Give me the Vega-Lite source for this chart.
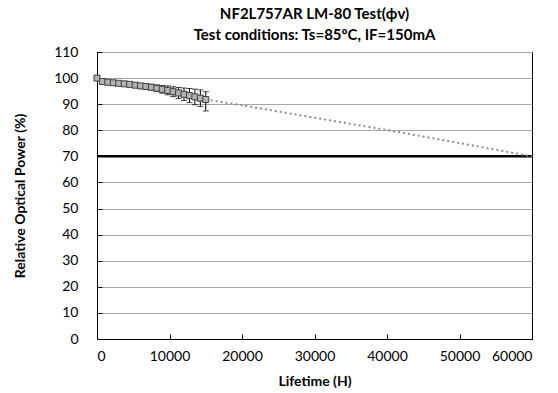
{
  "$schema": "https://vega.github.io/schema/vega-lite/v6.json",
  "width": 435,
  "height": 287,
  "autosize": "none",
  "padding": {"left": 97, "top": 52, "right": 26, "bottom": 54},
  "background": "white",
  "config": {
    "font": "Lato",
    "view": {"stroke": "#000", "strokeWidth": 1}
  },
  "title": {
    "text": ["NF2L757AR LM-80 Test(ϕv)", "Test conditions: Ts=85ºC, IF=150mA"],
    "font": "Lato",
    "fontSize": 15,
    "fontWeight": "bold",
    "color": "#000",
    "lineHeight": 21,
    "offset": 2,
    "anchor": "middle"
  },
  "datasets": {
    "meas": [
      {"t": 0, "v": 100, "lo": 100, "hi": 100},
      {"t": 750, "v": 98.7, "lo": 98.4, "hi": 99.0},
      {"t": 1500, "v": 98.4, "lo": 98.0, "hi": 98.8},
      {"t": 2250, "v": 98.2, "lo": 97.7, "hi": 98.7},
      {"t": 3000, "v": 98.0, "lo": 97.4, "hi": 98.6},
      {"t": 3750, "v": 97.8, "lo": 97.2, "hi": 98.4},
      {"t": 4500, "v": 97.6, "lo": 96.9, "hi": 98.3},
      {"t": 5250, "v": 97.3, "lo": 96.5, "hi": 98.1},
      {"t": 6000, "v": 97.0, "lo": 96.1, "hi": 97.9},
      {"t": 6750, "v": 96.8, "lo": 95.8, "hi": 97.8},
      {"t": 7500, "v": 96.5, "lo": 95.4, "hi": 97.6},
      {"t": 8250, "v": 96.1, "lo": 94.8, "hi": 97.4},
      {"t": 9000, "v": 95.7, "lo": 94.2, "hi": 97.2},
      {"t": 9750, "v": 95.3, "lo": 93.6, "hi": 97.0},
      {"t": 10500, "v": 94.8, "lo": 92.9, "hi": 96.7},
      {"t": 11250, "v": 94.3, "lo": 92.2, "hi": 96.4},
      {"t": 12000, "v": 93.8, "lo": 91.4, "hi": 96.2},
      {"t": 12750, "v": 93.3, "lo": 90.6, "hi": 96.0},
      {"t": 13500, "v": 92.8, "lo": 89.8, "hi": 95.8},
      {"t": 14250, "v": 92.3, "lo": 89.1, "hi": 95.5},
      {"t": 15000, "v": 91.8, "lo": 87.4, "hi": 94.8}
    ],
    "proj": [
      {"t": 15000, "v": 91.8},
      {"t": 20000, "v": 89.6},
      {"t": 30000, "v": 84.8},
      {"t": 40000, "v": 80.1},
      {"t": 50000, "v": 75.1},
      {"t": 60000, "v": 70}
    ],
    "limit": [
      {"t": 0, "v": 70},
      {"t": 60000, "v": 70}
    ]
  },
  "encoding": {
    "x": {
      "field": "t",
      "type": "quantitative",
      "scale": {"domain": [0, 60000], "nice": false},
      "axis": {
        "title": "Lifetime (H)",
        "values": [0, 10000, 20000, 30000, 40000, 50000, 60000],
        "format": "d",
        "grid": false,
        "domainColor": "#000",
        "tickColor": "#000",
        "tickSize": -5,
        "labelPadding": 15,
        "labelFont": "Lato",
        "labelFontSize": 14,
        "labelColor": "#000",
        "titleFont": "Lato",
        "titleFontSize": 14,
        "titleFontWeight": "bold",
        "titleColor": "#000",
        "titlePadding": 11
      }
    },
    "y": {
      "field": "v",
      "type": "quantitative",
      "scale": {"domain": [0, 110], "nice": false},
      "axis": {
        "title": "Relative Optical Power (%)",
        "values": [0, 10, 20, 30, 40, 50, 60, 70, 80, 90, 100, 110],
        "grid": true,
        "gridColor": "#a6a6a6",
        "gridWidth": 1,
        "domainColor": "#000",
        "tickColor": "#000",
        "tickSize": -5,
        "labelPadding": 24,
        "labelFont": "Lato",
        "labelFontSize": 14,
        "labelColor": "#000",
        "titleFont": "Lato",
        "titleFontSize": 14,
        "titleFontWeight": "bold",
        "titleColor": "#000",
        "titlePadding": 26
      }
    }
  },
  "layer": [
    {
      "data": {"name": "limit"},
      "mark": {"type": "line", "color": "#000", "strokeWidth": 2.5}
    },
    {
      "data": {"name": "proj"},
      "mark": {"type": "line", "color": "#8c8c8c", "strokeWidth": 2, "strokeDash": [2, 3]}
    },
    {
      "data": {"name": "meas"},
      "mark": {"type": "errorbar", "ticks": {"size": 6, "color": "#000"}, "rule": {"color": "#000"}},
      "encoding": {
        "y": {"field": "lo", "type": "quantitative"},
        "y2": {"field": "hi"}
      }
    },
    {
      "data": {"name": "meas"},
      "mark": {"type": "line", "color": "#000", "strokeWidth": 1}
    },
    {
      "data": {"name": "meas"},
      "mark": {"type": "point", "shape": "square", "filled": true, "size": 36, "fill": "#b3b3b3", "stroke": "#404040", "strokeWidth": 1, "opacity": 1}
    }
  ]
}
